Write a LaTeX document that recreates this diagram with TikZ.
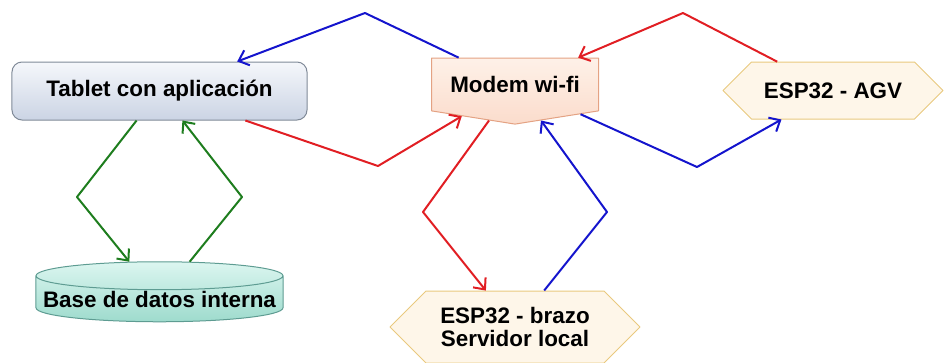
\documentclass[tikz,border=0pt]{standalone}
\usepackage{fontspec}
\setmainfont{Liberation Sans}
\usetikzlibrary{arrows.meta,shapes.symbols,shapes.geometric}
\definecolor{wireblue}{RGB}{20,20,205}
\definecolor{wirered}{RGB}{225,30,35}
\definecolor{wiregreen}{RGB}{30,125,30}
\definecolor{tabletline}{RGB}{128,138,152}
\definecolor{modemline}{RGB}{228,162,131}
\definecolor{espline}{RGB}{233,201,126}
\definecolor{dbline}{RGB}{94,156,146}
\begin{document}
\begin{tikzpicture}[x=1bp,y=-1bp,>={Straight Barb[length=9bp,width=16bp]},line join=bevel,
  every node/.style={font=\fontsize{22.5}{23.5}\selectfont\bfseries,inner sep=0pt,align=center},
  wire/.style={->,line width=2bp},
  tabletbox/.style={rectangle,rounded corners=10bp,draw=tabletline,line width=1bp,
    top color={rgb,255:red,245;green,247;blue,251},bottom color={rgb,255:red,203;green,212;blue,228},
    minimum width=295bp,minimum height=58bp},
  modembox/.style={signal,signal to=south,signal from=nothing,signal pointer angle=162,
    draw=modemline,line width=1bp,
    top color={rgb,255:red,254;green,241;blue,232},bottom color={rgb,255:red,251;green,220;blue,204},
    minimum width=167bp,minimum height=63bp},
  espbox/.style={signal,signal to=east and west,signal pointer angle=90,
    draw=espline,line width=1bp,fill={rgb,255:red,254;green,246;blue,233}},
  dbbox/.style={cylinder,shape border rotate=90,aspect=0.12,draw=dbline,line width=1bp,
    top color={rgb,255:red,220;green,246;blue,240},bottom color={rgb,255:red,158;green,219;blue,205},
    minimum width=247bp,minimum height=60bp}]
\useasboundingbox (0,0) rectangle (944,362);
%%
  % Node: Tablet
  \node[tabletbox] (tablet) at (159.5,91) {Tablet con aplicación};
  % Node: Modem
  \node[modembox] (modem) at (515,84.5) {Modem wi-fi};
  % Node: ESP32 AGV
  \node[espbox,minimum width=220bp,minimum height=57bp] (agv) at (833,90.5) {ESP32 - AGV};
  % Node: ESP32 brazo
  \node[espbox,minimum width=250bp,minimum height=72bp] (brazo) at (515,327) {ESP32 - brazo\\Servidor local};
  % Node: Base de datos
  \node[dbbox] (db) at (159.5,299) {Base de datos interna};
%
  % Bends
  \coordinate (up1) at (365,13);
  \coordinate (up2) at (683,13);
  \coordinate (lo1) at (378,166);
  \coordinate (lo2) at (697,167);
  \coordinate (mid1) at (423,212);
  \coordinate (mid2) at (607,212);
  \coordinate (db1) at (77,197);
  \coordinate (db2) at (242,197);
%
  % Edge: modem -> tablet
  \draw [wire,wireblue] (modem) -- (up1) -- (tablet);
  % Edge: agv -> modem
  \draw [wire,wirered] (agv) -- (up2) -- (modem);
  % Edge: tablet -> modem
  \draw [wire,wirered] (tablet) -- (lo1) -- (modem);
  % Edge: modem -> agv
  \draw [wire,wireblue] (modem) -- (lo2) -- (agv);
  % Edge: modem -> brazo
  \draw [wire,wirered] (modem) -- (mid1) -- (brazo);
  % Edge: brazo -> modem
  \draw [wire,wireblue] (brazo) -- (mid2) -- (modem);
  % Edge: tablet -> db
  \draw [wire,wiregreen] (tablet) -- (db1) -- (db);
  % Edge: db -> tablet
  \draw [wire,wiregreen] (db) -- (db2) -- (tablet);
%
\end{tikzpicture}
\end{document}
